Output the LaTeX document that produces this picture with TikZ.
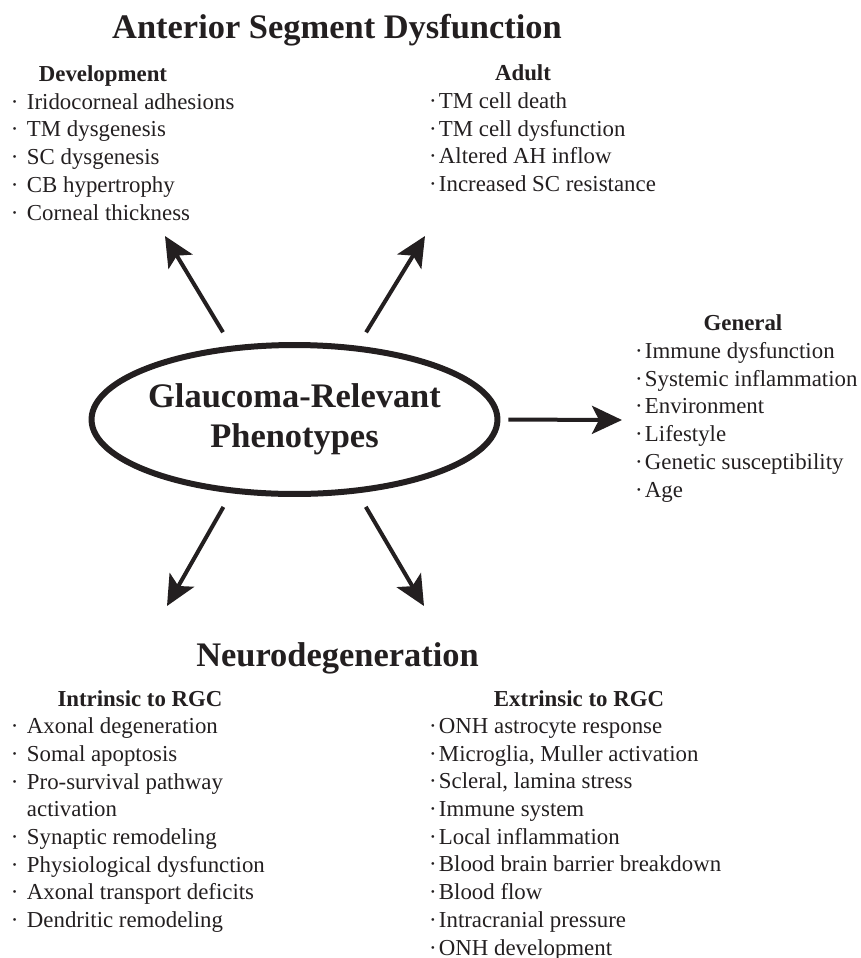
\documentclass[tikz,border=0pt]{standalone}
\usepackage{fontspec}
\setmainfont{Liberation Serif}
\usepackage{xcolor}
\usetikzlibrary{arrows.meta, shapes.geometric}

\definecolor{ink}{HTML}{231F20}
\newcommand{\bul}[1]{\makebox[#1][l]{\textperiodcentered}}

\begin{document}
\begin{tikzpicture}[
            x = 0.02cm, y = -0.02cm, % one unit = one pixel of the figure
            > = {Stealth[length=0.6cm, width=0.56cm, inset=0.14cm]}, % arrow head style
            line width = 0.08cm, % arrow line width
            color = ink, text = ink
        ]

        \tikzstyle{title}=[
            font = \fontsize{19.6pt}{22.7pt}\selectfont\bfseries,
            anchor = base,
            inner sep = 0pt
        ]
        \tikzstyle{head}=[
            font = \fontsize{13pt}{15.76pt}\selectfont\bfseries,
            anchor = base,
            inner sep = 0pt
        ]
        \tikzstyle{list}=[
            font = \fontsize{13pt}{15.76pt}\selectfont,
            align = left,
            anchor = base west, % base = baseline of the last line
            inner sep = 0pt
        ]

        \useasboundingbox (0,0) rectangle (861,958);

        % centre
        \node[ellipse, draw, line width=0.12cm, minimum width=8.12cm, minimum height=2.98cm,
              inner xsep=-0.1cm, inner ysep=0pt, outer sep=0pt, align=center,
              font=\fontsize{19.6pt}{22.7pt}\selectfont\bfseries] (GRP) at (294.5,419.5) {Glaucoma-Relevant\\Phenotypes};

        % anterior segment
        \node[title] (ASD) at (337,38) {Anterior Segment Dysfunction};
        \node[head] (DEV) at (103,81) {Development};
        \node[list] (DEVL) at (9,220) {\bul{0.32cm}Iridocorneal adhesions\\ \bul{0.32cm}TM dysgenesis\\ \bul{0.32cm}SC dysgenesis\\ \bul{0.32cm}CB hypertrophy\\ \bul{0.32cm}Corneal thickness};
        \node[head] (ADU) at (523,80) {Adult};
        \node[list] (ADUL) at (427,191.5) {\bul{0.2cm}TM cell death\\ \bul{0.2cm}TM cell dysfunction\\ \bul{0.2cm}Altered AH inflow\\ \bul{0.2cm}Increased SC resistance};

        % general
        \node[head] (GEN) at (743,330) {General};
        \node[list] (GENL) at (633,497) {\bul{0.2cm}Immune dysfunction\\ \bul{0.2cm}Systemic inflammation\\ \bul{0.2cm}Environment\\ \bul{0.2cm}Lifestyle\\ \bul{0.2cm}Genetic susceptibility\\ \bul{0.2cm}Age};

        % neurodegeneration
        \node[title] (NEU) at (337.5,666) {Neurodegeneration};
        \node[head] (INT) at (140,706) {Intrinsic to RGC};
        \node[list] (INTL) at (9,927.5) {\bul{0.32cm}Axonal degeneration\\ \bul{0.32cm}Somal apoptosis\\ \bul{0.32cm}Pro-survival pathway\\ \hspace*{0.32cm}activation\\ \bul{0.32cm}Synaptic remodeling\\ \bul{0.32cm}Physiological dysfunction\\ \bul{0.32cm}Axonal transport deficits\\ \bul{0.32cm}Dendritic remodeling};
        \node[head] (EXT) at (579,706) {Extrinsic to RGC};
        \node[list] (EXTL) at (427,955) {\bul{0.2cm}ONH astrocyte response\\ \bul{0.2cm}Microglia, Muller activation\\ \bul{0.2cm}Scleral, lamina stress\\ \bul{0.2cm}Immune system\\ \bul{0.2cm}Local inflammation\\ \bul{0.2cm}Blood brain barrier breakdown\\ \bul{0.2cm}Blood flow\\ \bul{0.2cm}Intracranial pressure\\ \bul{0.2cm}ONH development};

        % arrow tips
        \coordinate (DEVT) at (165,236);
        \coordinate (ADUT) at (425,236);
        \coordinate (GENT) at (622,420);
        \coordinate (INTT) at (167,606);
        \coordinate (EXTT) at (424,606);

        \draw[->, shorten <=0.38cm] (GRP.131) -- (DEVT);
        \draw[->, shorten <=0.38cm] (GRP.49) -- (ADUT);
        \draw[->, shorten <=0.22cm] (GRP.east) -- (GENT);
        \draw[->, shorten <=0.38cm] (GRP.229) -- (INTT);
        \draw[->, shorten <=0.38cm] (GRP.311) -- (EXTT);

    \end{tikzpicture}
\end{document}
